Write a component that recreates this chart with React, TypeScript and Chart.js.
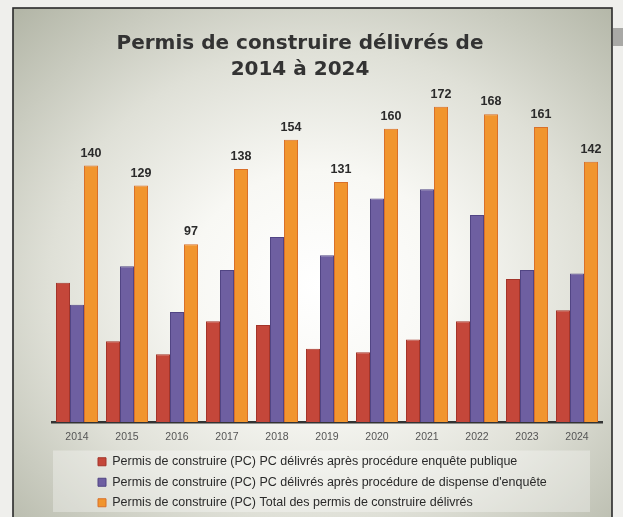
import React, { useEffect, useRef } from 'react';
import { Chart, registerables } from 'chart.js';

Chart.register(...registerables);

const years = ['2014', '2015', '2016', '2017', '2018', '2019', '2020', '2021', '2022', '2023', '2024'];
const enquetePublique = [76, 44, 37, 55, 53, 40, 38, 45, 55, 78, 61];
const dispenseEnquete = [64, 85, 60, 83, 101, 91, 122, 127, 113, 83, 81];
const totalPermis = [140, 129, 97, 138, 154, 131, 160, 172, 168, 161, 142];

const titleLines = ['Permis de construire délivrés de', '2014 à 2024'];
const seriesNames = [
  'Permis de construire (PC) PC délivrés après procédure enquête publique',
  "Permis de construire (PC) PC délivrés après procédure de dispense d'enquête",
  'Permis de construire (PC) Total des permis de construire délivrés',
];

const W = 623;
const H = 517;

const backgroundPlugin = {
  id: 'scanBackground',
  beforeDraw(chart: any) {
    const ctx = chart.ctx;
    ctx.save();
    ctx.fillStyle = '#efefec';
    ctx.fillRect(0, 0, W, H);
    ctx.fillStyle = '#a9a9a6';
    ctx.fillRect(613, 28, 10, 18);
    const fx = 13, fy = 8, fw = 599, fh = 520;
    ctx.save();
    ctx.beginPath();
    ctx.rect(fx, fy, fw, fh);
    ctx.clip();
    ctx.translate(320, 285);
    ctx.scale(1.15, 1);
    const g = ctx.createRadialGradient(0, 0, 0, 0, 0, 380);
    g.addColorStop(0, '#ffffff');
    g.addColorStop(0.3, '#f8f8f4');
    g.addColorStop(0.62, '#dfe0d7');
    g.addColorStop(1, '#b3b6a7');
    ctx.fillStyle = g;
    ctx.fillRect(-400, -400, 800, 800);
    ctx.restore();
    ctx.strokeStyle = '#2a2a2a';
    ctx.lineWidth = 1.6;
    ctx.strokeRect(fx, fy, fw, fh);
    const lg = chart.legend;
    const ca = chart.chartArea;
    if (lg) {
      ctx.fillStyle = 'rgba(255,255,255,0.32)';
      ctx.fillRect(ca.left + 1, lg.top + 3, ca.right - ca.left - 13, lg.bottom - lg.top - 8);
    }
    ctx.restore();
  },
};

const shiftPlugin = {
  id: 'shiftBoxes',
  afterLayout(chart: any) {
    const t = chart.titleBlock;
    if (t) {
      t.left -= 27;
      t.right -= 27;
    }
    const lg = chart.legend;
    if (lg) {
      lg.left += 38;
      lg.top += 2;
    }
  },
};

const valueLabelPlugin = {
  id: 'valueLabels',
  afterDatasetsDraw(chart: any) {
    const ctx = chart.ctx;
    const meta = chart.getDatasetMeta(2);
    ctx.save();
    ctx.font = 'bold 12.5px "Liberation Sans", Arial, sans-serif';
    ctx.fillStyle = '#2a2a2a';
    ctx.textAlign = 'center';
    ctx.textBaseline = 'bottom';
    meta.data.forEach((el: any, i: number) => {
      ctx.fillText(String(totalPermis[i]), el.x, el.y - 6);
    });
    ctx.restore();
  },
};

export default function App() {
  const ref = useRef<HTMLCanvasElement>(null);

  useEffect(() => {
    if (!ref.current) return;
    const chart = new Chart(ref.current, {
      type: 'bar',
      data: {
        labels: years,
        datasets: [
          {
            label: seriesNames[0],
            data: enquetePublique,
            backgroundColor: '#c4473a',
            borderColor: '#a3352a',
            borderWidth: 1,
          },
          {
            label: seriesNames[1],
            data: dispenseEnquete,
            backgroundColor: '#6e5fa1',
            borderColor: '#514584',
            borderWidth: 1,
          },
          {
            label: seriesNames[2],
            data: totalPermis,
            backgroundColor: '#f1952e',
            borderColor: '#d9702a',
            borderWidth: 1,
          },
        ],
      },
      plugins: [backgroundPlugin, shiftPlugin, valueLabelPlugin],
      options: {
        responsive: false,
        animation: false,
        events: [],
        layout: { padding: { left: 52, right: 21, top: 0, bottom: 0 } },
        datasets: {
          bar: { categoryPercentage: 0.84, barPercentage: 1.0 },
        },
        scales: {
          x: {
            grid: { display: false, drawTicks: false },
            border: { display: true, color: '#333333', width: 2.5 },
            ticks: {
              color: '#555555',
              padding: 9,
              font: { family: '"Liberation Sans", Arial, sans-serif', size: 10.5 },
            },
            afterFit(scale: any) {
              scale.height = 23.5;
            },
          },
          y: {
            display: false,
            min: 0,
            max: 185,
          },
        },
        plugins: {
          tooltip: { enabled: false },
          title: {
            display: true,
            text: titleLines,
            color: '#333333',
            font: { family: '"DejaVu Sans", sans-serif', size: 20, weight: 'bold', lineHeight: 1.3 },
            padding: { top: 31, bottom: 0 },
          },
          legend: {
            display: true,
            position: 'bottom',
            align: 'start',
            labels: {
              color: '#2a2a2a',
              boxWidth: 8,
              boxHeight: 8,
              padding: 8,
              font: { family: '"Liberation Sans", Arial, sans-serif', size: 12.5 },
            },
          },
        },
      },
    } as any);
    return () => chart.destroy();
  }, []);

  return (
    <div style={{ position: 'absolute', left: 0, top: 0, width: W, height: H }}>
      <canvas ref={ref} width={W} height={H} style={{ display: 'block', width: W, height: H }} />
    </div>
  );
}
